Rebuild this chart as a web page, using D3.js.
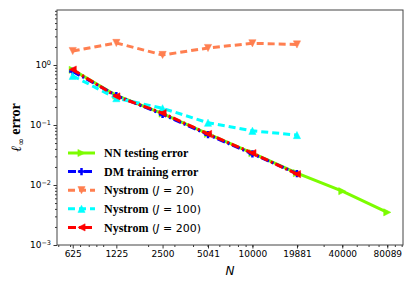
<!DOCTYPE html>
<html>
<head>
<meta charset="utf-8">
<script src="https://cdn.jsdelivr.net/npm/d3@7/dist/d3.min.js"></script>
<style>
  body { margin: 0; background: #fff; }
  svg { display: block; }
  .tick text { font-family: "DejaVu Sans", sans-serif; font-size: 9px; fill: #000; }
</style>
</head>
<body>
<script>
// data
var Nticks = [625, 1225, 2500, 5041, 10000, 19881, 40000, 80089];
var Nsmall = [625, 1225, 2500, 5041, 10000, 19881];

var nnTest  = [0.83, 0.31, 0.155, 0.071, 0.034, 0.0158, 0.0079, 0.0035];
var dmTrain = [0.78, 0.31, 0.15, 0.069, 0.033, 0.0155];
var ny20    = [1.71, 2.33, 1.47, 1.92, 2.3, 2.2];
var ny100   = [0.66, 0.28, 0.19, 0.109, 0.08, 0.068];
var ny200   = [0.84, 0.30, 0.158, 0.071, 0.034, 0.0152];

var margin = { top: 10, right: 12, bottom: 41, left: 57 };
var width = 415 - margin.left - margin.right;
var height = 286 - margin.top - margin.bottom;

var svg = d3.select("body").append("svg")
    .attr("width", 415)
    .attr("height", 286)
    .append("g")
    .attr("transform", "translate(" + margin.left + "," + margin.top + ")");

var x = d3.scaleLog()
    .domain([625 / Math.pow(2, 0.35), 80089 * Math.pow(2, 0.35)])
    .range([0, width]);

var y = d3.scaleLog()
    .domain([1e-3, Math.pow(10, 235 / 60 - 3)])
    .range([height, 0]);

// minor ticks
var xMinor = [];
[100, 1000, 10000, 100000].forEach(function(b) {
    for (var k = 1; k < 10; k++) xMinor.push(b * k);
});
xMinor = xMinor.filter(function(v) { return v > x.domain()[0] && v < x.domain()[1]; });

var yMinor = [];
[1e-3, 1e-2, 1e-1, 1].forEach(function(b) {
    for (var k = 2; k < 10; k++) {
        if (b * k < y.domain()[1]) yMinor.push(b * k);
    }
});

svg.append("g")
    .attr("transform", "translate(0," + height + ")")
    .call(d3.axisBottom(x).tickValues(xMinor).tickSize(2).tickFormat(""))
    .call(function(g) { g.select(".domain").remove(); });

svg.append("g")
    .call(d3.axisLeft(y).tickValues(yMinor).tickSize(2).tickFormat(""))
    .call(function(g) { g.select(".domain").remove(); });

svg.append("g")
    .attr("transform", "translate(0," + height + ")")
    .call(d3.axisBottom(x).tickValues(Nticks).tickSize(3.5).tickPadding(2).tickFormat(d3.format("d")))
    .call(function(g) { g.select(".domain").remove(); });

var yAxis = svg.append("g")
    .call(d3.axisLeft(y).tickValues([1e-3, 1e-2, 1e-1, 1]).tickSize(3.5).tickPadding(2).tickFormat(""))
    .call(function(g) { g.select(".domain").remove(); });

yAxis.selectAll(".tick").append("text")
    .attr("x", -6)
    .attr("dy", "0.32em")
    .attr("text-anchor", "end")
    .each(function(d) {
        var t = d3.select(this);
        t.append("tspan").text("10");
        t.append("tspan").attr("dy", "-0.45em").style("font-size", "6.5px")
            .text(Math.round(Math.log10(d)) === 0 ? "0" : "\u2212" + (-Math.round(Math.log10(d))));
    });

svg.selectAll(".tick line").attr("stroke", "#000").attr("stroke-width", 0.8);

// frame
svg.append("rect")
    .attr("width", width)
    .attr("height", height)
    .attr("fill", "none")
    .attr("stroke", "#444")
    .attr("stroke-width", 1);

var series = [
    { name: "NN testing error", n: Nticks, v: nnTest, color: "#7CFC00", dash: null, marker: "right" },
    { name: "DM training error", n: Nsmall, v: dmTrain, color: "#0000FF", dash: "8,3,2,3", marker: "plus" },
    { name: "Nystrom", J: "20", n: Nsmall, v: ny20, color: "#FF7F50", dash: "7,4", marker: "down" },
    { name: "Nystrom", J: "100", n: Nsmall, v: ny100, color: "#00FFFF", dash: "7,4", marker: "up" },
    { name: "Nystrom", J: "200", n: Nsmall, v: ny200, color: "#FF0000", dash: "8,3,2,3", marker: "left" }
];

function markerPath(type, s) {
    if (type === "right") return "M" + (-s) + "," + (-s) + "L" + s + ",0L" + (-s) + "," + s + "Z";
    if (type === "left") return "M" + s + "," + (-s) + "L" + (-s) + ",0L" + s + "," + s + "Z";
    if (type === "up") return "M" + (-s) + "," + s + "L0," + (-s) + "L" + s + "," + s + "Z";
    if (type === "down") return "M" + (-s) + "," + (-s) + "L0," + s + "L" + s + "," + (-s) + "Z";
    return "M" + (-s) + ",0L" + s + ",0M0," + (-s) + "L0," + s;
}

var line = d3.line()
    .x(function(d) { return x(d[0]); })
    .y(function(d) { return y(d[1]); });

series.forEach(function(s) {
    var pts = s.n.map(function(n, i) { return [n, s.v[i]]; });
    svg.append("path")
        .datum(pts)
        .attr("fill", "none")
        .attr("stroke", s.color)
        .attr("stroke-width", 3)
        .attr("stroke-dasharray", s.dash)
        .attr("d", line);
    svg.selectAll(null)
        .data(pts)
        .enter()
        .append("path")
        .attr("transform", function(d) { return "translate(" + x(d[0]) + "," + y(d[1]) + ")"; })
        .attr("d", markerPath(s.marker, 3.6))
        .attr("fill", s.marker === "plus" ? "none" : s.color)
        .attr("stroke", s.color)
        .attr("stroke-width", s.marker === "plus" ? 2.5 : 0.5);
});

// legend
var legend = svg.append("g")
    .attr("transform", "translate(11,143)");

series.forEach(function(s, i) {
    var g = legend.append("g").attr("transform", "translate(0," + (i * 18.6) + ")");
    g.append("line")
        .attr("x1", 0).attr("x2", 27)
        .attr("stroke", s.color)
        .attr("stroke-width", 3)
        .attr("stroke-dasharray", s.dash);
    g.append("path")
        .attr("transform", "translate(13.5,0)")
        .attr("d", markerPath(s.marker, 3.6))
        .attr("fill", s.marker === "plus" ? "none" : s.color)
        .attr("stroke", s.color)
        .attr("stroke-width", s.marker === "plus" ? 2.5 : 0.5);
    var t = g.append("text")
        .attr("x", 36)
        .attr("dy", "0.35em")
        .style("font-family", "'Liberation Serif', serif")
        .style("font-weight", "bold")
        .style("font-size", "12px");
    t.append("tspan").text(s.name);
    if (s.J) {
        t.append("tspan").style("font-weight", "normal").style("font-family", "'DejaVu Sans', sans-serif")
            .style("font-size", "11px").text(" (");
        t.append("tspan").style("font-weight", "normal").style("font-family", "'DejaVu Sans', sans-serif")
            .style("font-style", "italic").style("font-size", "11px").text("J");
        t.append("tspan").style("font-weight", "normal").style("font-family", "'DejaVu Sans', sans-serif")
            .style("font-size", "11px").text(" = " + s.J + ")");
    }
});

// axis labels
svg.append("text")
    .attr("x", width / 2)
    .attr("y", height + 30)
    .attr("text-anchor", "middle")
    .style("font-family", "'DejaVu Sans', sans-serif")
    .style("font-style", "italic")
    .style("font-size", "12px")
    .text("N");

var yl = svg.append("text")
    .attr("transform", "translate(" + (-36) + "," + (height / 2) + ") rotate(-90)")
    .attr("text-anchor", "middle")
    .style("font-size", "14px");
yl.append("tspan").style("font-family", "'DejaVu Serif', serif").style("font-style", "italic").style("font-weight", "bold").text("\u2113");
yl.append("tspan").style("font-family", "'DejaVu Sans', sans-serif").style("font-size", "9px").attr("dy", "0.3em").text("\u221E");
yl.append("tspan").style("font-family", "'Liberation Serif', serif").style("font-weight", "bold").attr("dy", "-0.3em").text(" error");
</script>
</body>
</html>
